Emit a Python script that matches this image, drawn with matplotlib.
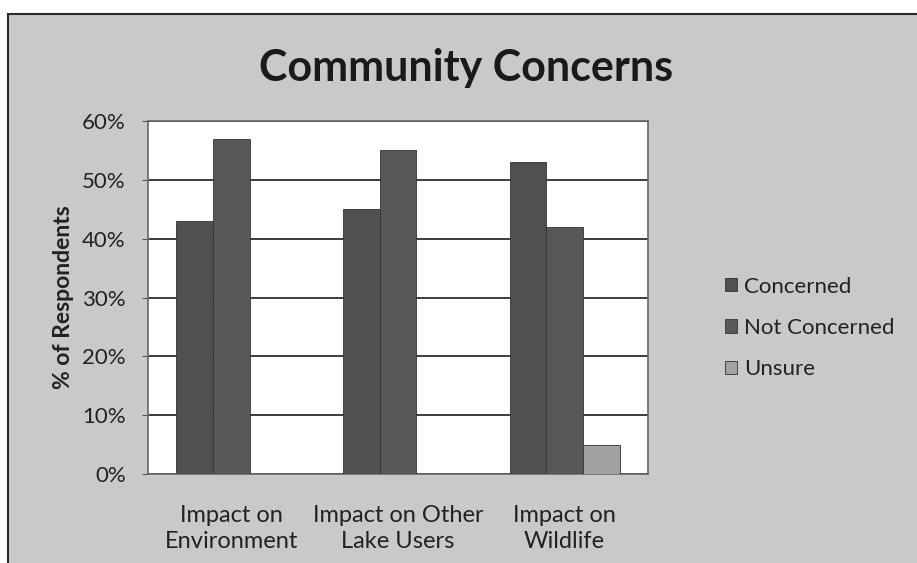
import numpy as np
import matplotlib.pyplot as plt
from matplotlib.patches import Rectangle

categories = ["Impact on\nEnvironment", "Impact on Other\nLake Users", "Impact on\nWildlife"]
series = ["Concerned", "Not Concerned", "Unsure"]
concerned = [43, 45, 53]
not_concerned = [57, 55, 42]
unsure = [0, 0, 5]
yticks = [0, 10, 20, 30, 40, 50, 60]

colors = ["#505050", "#585858", "#a2a2a2"]
plt.rcParams['font.family'] = ['Lato', 'DejaVu Sans']

fig = plt.figure(figsize=(9.17, 5.63), dpi=100, facecolor="white")
# scanned chart frame
fig.patches.append(Rectangle((8/917, -0.01), 1.0, 1 - 14/563 + 0.01, transform=fig.transFigure,
                             facecolor="#c9c9c9", edgecolor="#2a2a2a", linewidth=1.5, zorder=-5))

ax = fig.add_axes([148/917, 1 - 474/563, 500/917, 353/563])
ax.set_facecolor("white")

x = np.arange(len(categories))
w = 0.22
for i, (name, vals) in enumerate(zip(series, [concerned, not_concerned, unsure])):
    ax.bar(x + (i - 1) * w, vals, width=w, color=colors[i], edgecolor="#333333",
           linewidth=0.6, label=name, zorder=3)

ax.set_xlim(-0.5, 2.5)
ax.set_ylim(0, 60)
ax.set_yticks(yticks)
ax.set_yticklabels([f"{v}%" for v in yticks], fontsize=16, color="#222222")
ax.set_xticks(x)
ax.set_xticklabels(categories, fontsize=17, color="#222222", linespacing=1.3)
ax.tick_params(axis="x", length=0, pad=22)
ax.tick_params(axis="y", length=4, pad=12, color="#555555")
ax.yaxis.grid(True, color="#3c3c3c", linewidth=1.4, zorder=0)
ax.set_axisbelow(True)
for s in ax.spines.values():
    s.set_color("#666666")
    s.set_linewidth(1.2)

ax.set_ylabel("% of Respondents", fontsize=16.5, fontweight="bold", color="#222222", labelpad=6)

fig.text(466/917, 1 - 68/563, "Community Concerns", ha="center", va="center",
         fontsize=31, fontweight="bold", color="#1a1a1a")

leg = ax.legend(loc="center left", bbox_to_anchor=(1.114, 0.414), frameon=False, fontsize=16,
                handlelength=0.55, handleheight=0.55, handletextpad=0.3, labelspacing=0.96)
for t in leg.get_texts():
    t.set_color("#222222")

fig.savefig("out.png", dpi=100, facecolor=fig.get_facecolor())
